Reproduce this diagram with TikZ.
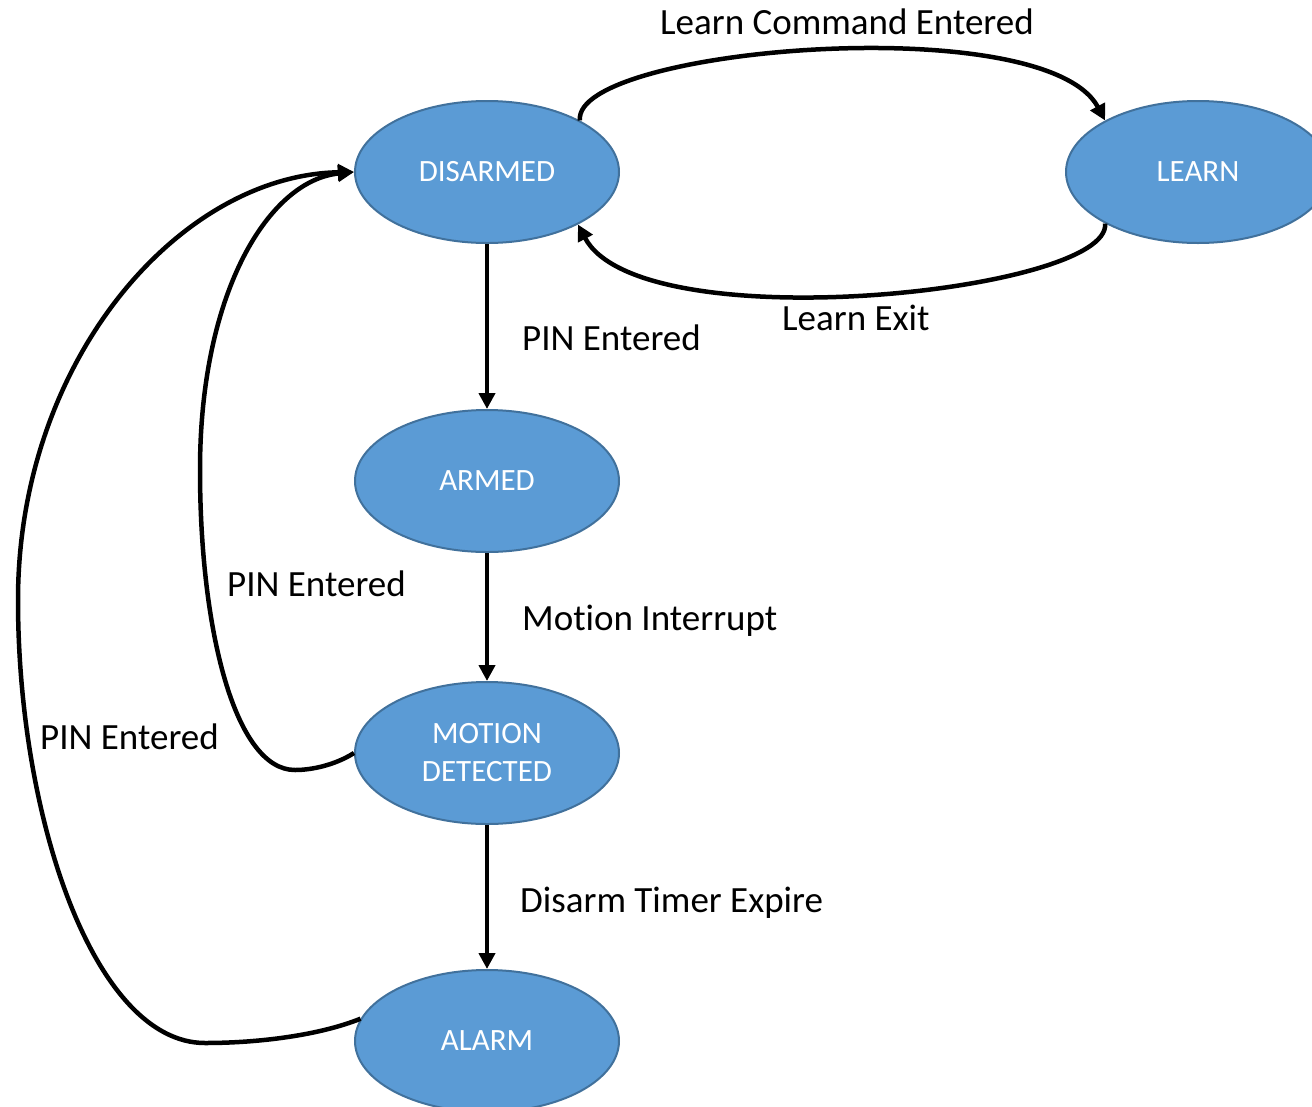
\documentclass[tikz,border=0pt]{standalone}
\usepackage{fontspec}
\setmainfont{Carlito}[Ligatures=NoCommon]
\usetikzlibrary{shapes.geometric,arrows.meta}
\definecolor{statefill}{HTML}{5B9BD5}
\definecolor{stateline}{HTML}{41719C}
\tikzset{
  state/.style={ellipse, draw=stateline, line width=2pt, fill=statefill,
    minimum width=264pt, minimum height=142pt, inner sep=0pt,
    text=white, font=\fontsize{31}{38}\selectfont, align=center},
  conn/.style={line width=4.5pt, -{Triangle[length=16pt,width=16pt]}},
  lbl/.style={anchor=west, inner sep=0pt, font=\fontsize{37}{44}\selectfont, text=black}
}
\begin{document}
\begin{tikzpicture}[x=1pt,y=-1pt]
\useasboundingbox (0,0) rectangle (1312,1106);
\clip (0,0) rectangle (1312,1106);
\node[state] (dis) at (487,172) {DISARMED};
\node[state] (lrn) at (1198,172) {LEARN};
\node[state] (arm) at (487,481) {ARMED};
\node[state] (mot) at (487,753) {MOTION\\DETECTED};
\node[state] (alm) at (487,1041) {ALARM};

\draw[conn] (dis.south) -- (arm.north);
\draw[conn] (arm.south) -- (mot.north);
\draw[conn] (mot.south) -- (alm.north);

\draw[conn] (dis.29) .. controls (572,48) and (1045,8) .. (lrn.151);
\draw[conn] (lrn.209) .. controls (1112,292) and (640,342) .. (dis.330);

\draw[conn] (mot.west) .. controls (335,765) and (312,770) .. (295,770)
  .. controls (235,770) and (200,630) .. (200,470)
  .. controls (200,290) and (270,180) .. (dis.west);
\draw[conn] (alm.170) .. controls (320,1035) and (260,1043) .. (205,1043)
  .. controls (95,1043) and (18,820) .. (18,600)
  .. controls (18,360) and (180,175) .. (dis.west);

\node[lbl] (l1) at (660,22) {Learn Command Entered};
\node[lbl] (l2) at (782,318) {Learn Exit};
\node[lbl] (l3) at (522,338) {PIN Entered};
\node[lbl] (l4) at (522,621) {Motion Interrupt};
\node[lbl] (l5) at (520,903) {Disarm Timer Expire};
\node[lbl] (l6) at (227,584) {PIN Entered};
\node[lbl] (l7) at (40,737) {PIN Entered};
\end{tikzpicture}
\end{document}
